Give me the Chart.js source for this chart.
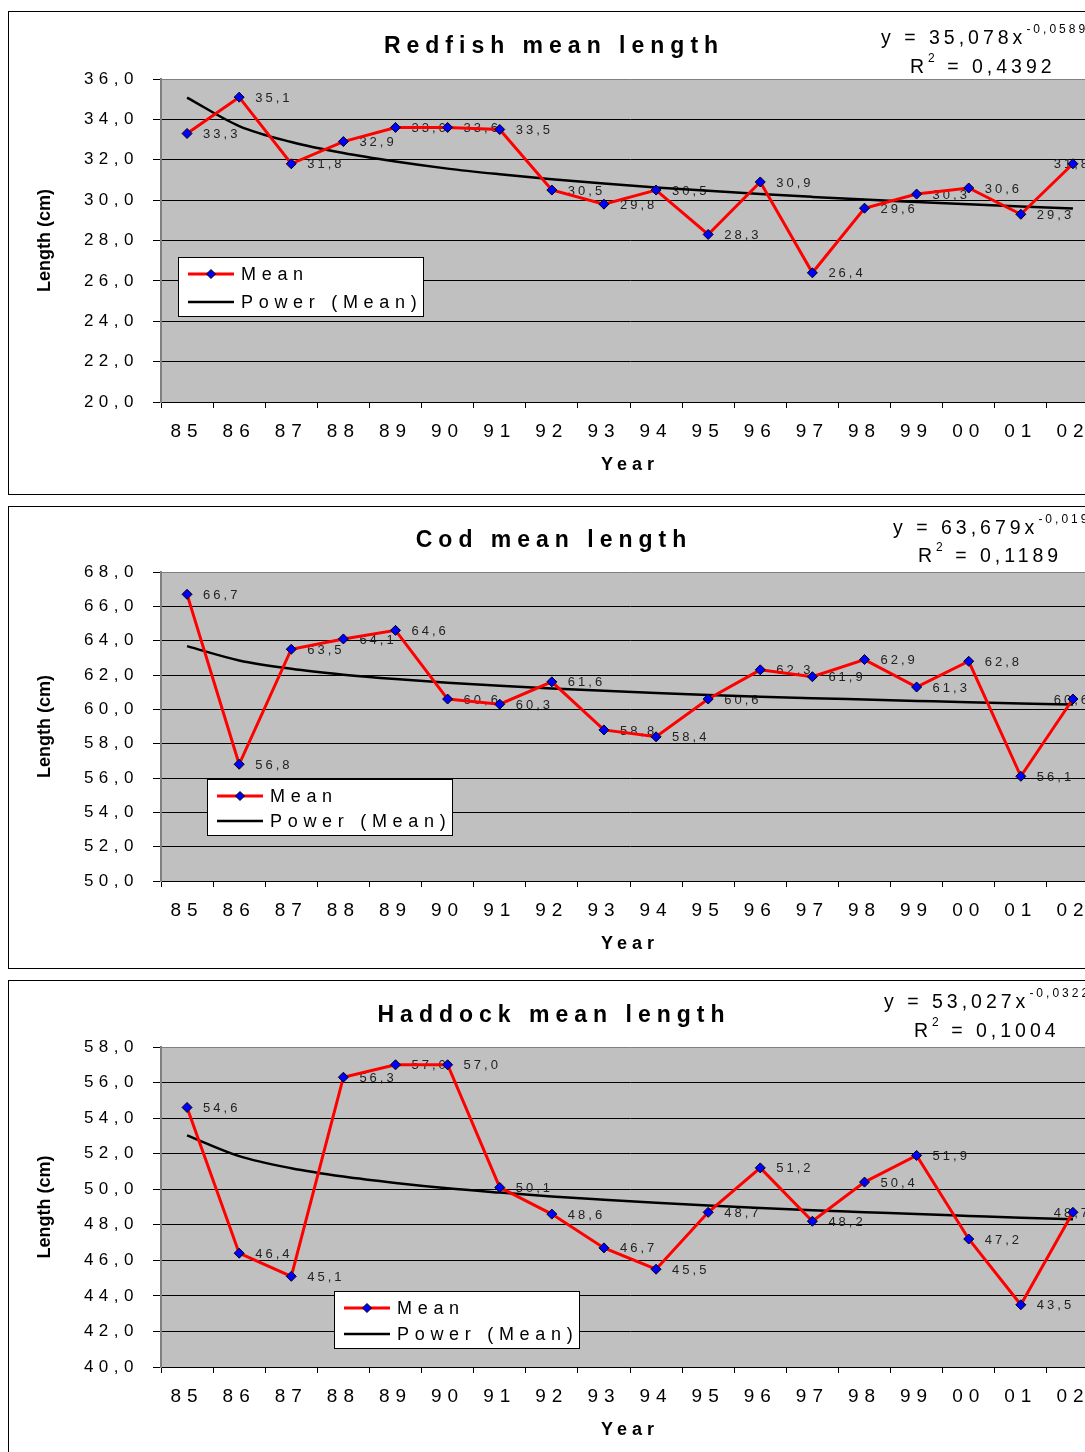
<!DOCTYPE html>
<html lang="en">
<head>
<meta charset="UTF-8">
<title>Mean length</title>
<script src="https://cdn.jsdelivr.net/npm/chart.js"></script>
<style>
  html, body { margin: 0; padding: 0; background: #fff; overflow: hidden; }
  .page {
    position: relative;
    width: 1085px;
    height: 1452px;
    overflow: hidden;
    font-family: "Liberation Sans", Arial, sans-serif;
    color: #000;
  }
  .panel {
    position: absolute;
    left: 8px;
    width: 1130px;
    border: 1px solid #000;
    box-sizing: border-box;
  }
  canvas { position: absolute; left: 9px; }
  .title {
    position: absolute;
    left: 0;
    width: 1108px;
    text-align: center;
    font-weight: bold;
    font-size: 23px;
    letter-spacing: 6px;
    line-height: 28px;
    white-space: nowrap;
  }
  .eq {
    position: absolute;
    font-size: 19.5px;
    letter-spacing: 4px;
    line-height: 22px;
    white-space: nowrap;
  }
  .eq sup { font-size: 12px; letter-spacing: 3px; vertical-align: 11px; line-height: 0; }
</style>
</head>
<body>
<div class="page">
  <div class="panel" style="top:11px;height:484px"></div>
  <div class="panel" style="top:506px;height:463px"></div>
  <div class="panel" style="top:980px;height:490px"></div>

  <canvas id="redfish" width="1110" height="481" style="top:12px"></canvas>
  <canvas id="cod" width="1110" height="460" style="top:507px"></canvas>
  <canvas id="haddock" width="1110" height="490" style="top:981px"></canvas>

  <div class="title" style="top:31px">Redfish mean length</div>
  <div class="eq" style="left:881px;top:26px">y = 35,078x<sup>-0,0589</sup></div>
  <div class="eq" style="left:910px;top:55px">R<sup>2</sup> = 0,4392</div>

  <div class="title" style="top:525px">Cod mean length</div>
  <div class="eq" style="left:893px;top:516px">y = 63,679x<sup>-0,019</sup></div>
  <div class="eq" style="left:918px;top:544px">R<sup>2</sup> = 0,1189</div>

  <div class="title" style="top:1000px">Haddock mean length</div>
  <div class="eq" style="left:884px;top:990px">y = 53,027x<sup>-0,0322</sup></div>
  <div class="eq" style="left:914px;top:1019px">R<sup>2</sup> = 0,1004</div>
</div>

<script>
// data
const years = ['85', '86', '87', '88', '89', '90', '91', '92', '93', '94', '95', '96', '97', '98', '99', '00', '01', '02'];

const redfishMean = [33.3, 35.1, 31.8, 32.9, 33.6, 33.6, 33.5, 30.5, 29.8, 30.5, 28.3, 30.9, 26.4, 29.6, 30.3, 30.6, 29.3, 31.8];
const redfishPower = [35.08, 33.67, 32.88, 32.33, 31.91, 31.56, 31.28, 31.03, 30.82, 30.63, 30.46, 30.30, 30.16, 30.03, 29.91, 29.79, 29.69, 29.59];
const redfishRange = [20, 36];

const codMean = [66.7, 56.8, 63.5, 64.1, 64.6, 60.6, 60.3, 61.6, 58.8, 58.4, 60.6, 62.3, 61.9, 62.9, 61.3, 62.8, 56.1, 60.6];
const codPower = [63.68, 62.85, 62.36, 62.02, 61.76, 61.55, 61.37, 61.21, 61.08, 60.95, 60.84, 60.74, 60.65, 60.57, 60.49, 60.41, 60.34, 60.28];
const codRange = [50, 68];

const haddockMean = [54.6, 46.4, 45.1, 56.3, 57.0, 57.0, 50.1, 48.6, 46.7, 45.5, 48.7, 51.2, 48.2, 50.4, 51.9, 47.2, 43.5, 48.7];
const haddockPower = [53.03, 51.86, 51.18, 50.71, 50.35, 50.05, 49.81, 49.59, 49.41, 49.24, 49.09, 48.95, 48.82, 48.71, 48.60, 48.50, 48.40, 48.31];
const haddockRange = [40, 58];

const FONT = '"Liberation Sans", Arial, sans-serif';
Chart.defaults.font.family = FONT;
Chart.defaults.color = '#000';

const fmt = v => v.toFixed(1).replace('.', ',');

// grey plot area
const plotBg = {
    id: 'plotBg',
    beforeDraw(chart) {
        const a = chart.chartArea;
        chart.ctx.save();
        chart.ctx.fillStyle = '#c0c0c0';
        chart.ctx.fillRect(a.left, a.top, a.right - a.left, a.bottom - a.top);
        chart.ctx.restore();
    }
};

// value labels, drawn under the lines like the original
const pointLabels = {
    id: 'pointLabels',
    beforeDatasetsDraw(chart) {
        const ctx = chart.ctx;
        const meta = chart.getDatasetMeta(0);
        const values = chart.data.datasets[0].data;
        const right = chart.chartArea.right;
        ctx.save();
        ctx.font = '13px ' + FONT;
        ctx.letterSpacing = '3px';
        ctx.fillStyle = '#222';
        ctx.textAlign = 'left';
        ctx.textBaseline = 'middle';
        meta.data.forEach((pt, i) => {
            const txt = fmt(values[i]);
            const w = ctx.measureText(txt).width;
            // labels that would run past the plot get pulled back inside it
            const x = Math.min(pt.x + 16, right - w - 8);
            ctx.fillText(txt, x, pt.y + 1);
        });
        ctx.restore();
    }
};

// boxed legend sitting inside the plot
const boxLegend = {
    id: 'boxLegend',
    afterDatasetsDraw(chart, args, opts) {
        const ctx = chart.ctx;
        const {x, y, w, h} = opts;
        const sets = chart.data.datasets;
        ctx.save();
        ctx.fillStyle = '#fff';
        ctx.fillRect(x, y, w, h);
        ctx.strokeStyle = '#000';
        ctx.lineWidth = 1;
        ctx.strokeRect(x + 0.5, y + 0.5, w - 1, h - 1);

        const rows = [y + 17, y + h - 15];
        // Mean
        ctx.strokeStyle = sets[0].borderColor;
        ctx.lineWidth = 3;
        ctx.beginPath();
        ctx.moveTo(x + 10, rows[0]);
        ctx.lineTo(x + 56, rows[0]);
        ctx.stroke();
        ctx.beginPath();
        ctx.moveTo(x + 33, rows[0] - 4.5);
        ctx.lineTo(x + 37.5, rows[0]);
        ctx.lineTo(x + 33, rows[0] + 4.5);
        ctx.lineTo(x + 28.5, rows[0]);
        ctx.closePath();
        ctx.fillStyle = '#0000ff';
        ctx.fill();
        ctx.lineWidth = 1;
        ctx.strokeStyle = '#000';
        ctx.stroke();
        // Power (Mean)
        ctx.strokeStyle = sets[1].borderColor;
        ctx.lineWidth = 2.5;
        ctx.beginPath();
        ctx.moveTo(x + 10, rows[1]);
        ctx.lineTo(x + 56, rows[1]);
        ctx.stroke();

        ctx.font = '18px ' + FONT;
        ctx.letterSpacing = '5.7px';
        ctx.fillStyle = '#000';
        ctx.textAlign = 'left';
        ctx.textBaseline = 'middle';
        ctx.fillText(sets[0].label, x + 63, rows[0] + 1);
        ctx.fillText(sets[1].label, x + 63, rows[1] + 1);
        ctx.restore();
    }
};

// wide letter spacing on axis text, as in the source picture
function spaced(scale, name, ls) {
    if (!scale || scale['_orig_' + name]) return;
    const orig = scale[name];
    scale['_orig_' + name] = orig;
    scale[name] = function (...a) {
        const ctx = this.ctx;
        const prev = ctx.letterSpacing;
        ctx.letterSpacing = ls;
        orig.apply(this, a);
        ctx.letterSpacing = prev;
    };
}
const spacing = {
    id: 'spacing',
    afterUpdate(chart) {
        spaced(chart.scales.x, 'drawLabels', '6px');
        spaced(chart.scales.x, 'drawTitle', '5px');
        spaced(chart.scales.y, 'drawLabels', '5.5px');
        spaced(chart.scales.y, 'drawTitle', '0px');
    }
};

function makeChart(id, mean, power, range, legendBox, padTop, padBottom) {
    return new Chart(document.getElementById(id), {
        type: 'line',
        data: {
            labels: years,
            datasets: [
                {
                    label: 'Mean',
                    data: mean,
                    borderColor: '#ff0000',
                    borderWidth: 3,
                    pointStyle: 'rectRot',
                    pointRadius: 5,
                    pointBackgroundColor: '#0000ff',
                    pointBorderColor: '#000',
                    pointBorderWidth: 1,
                    tension: 0
                },
                {
                    label: 'Power (Mean)',
                    data: power,
                    borderColor: '#000',
                    borderWidth: 2.5,
                    pointRadius: 0,
                    cubicInterpolationMode: 'monotone'
                }
            ]
        },
        options: {
            responsive: false,
            animation: false,
            layout: { padding: { top: padTop, right: 20, bottom: padBottom, left: 0 } },
            plugins: {
                legend: { display: false },
                tooltip: { enabled: false },
                boxLegend: legendBox
            },
            scales: {
                x: {
                    offset: true,
                    grid: { offset: true, drawOnChartArea: false, tickLength: 6, color: '#000' },
                    border: { color: '#000', width: 1 },
                    ticks: { font: { size: 19 }, color: '#000', padding: 12, autoSkip: false, maxRotation: 0 },
                    title: {
                        display: true, text: 'Year', color: '#000',
                        font: { size: 18, weight: 'bold' },
                        padding: { top: 0, bottom: 6 }
                    },
                    afterFit: s => { s.height = 80; }
                },
                y: {
                    min: range[0],
                    max: range[1],
                    ticks: { stepSize: 2, font: { size: 17 }, color: '#000', padding: 14, callback: v => fmt(v) },
                    grid: {
                        color: c => (c.tick && c.tick.value === range[1]) ? '#808080' : '#000',
                        tickColor: '#000',
                        tickLength: 8,
                        lineWidth: 1
                    },
                    border: { color: '#808080', width: 2 },
                    title: {
                        display: true, text: 'Length (cm)', color: '#000',
                        font: { size: 18, weight: 'bold' },
                        padding: { top: 25, bottom: 0 }
                    },
                    afterFit: s => { s.width = 152; }
                }
            }
        },
        plugins: [plotBg, pointLabels, boxLegend, spacing]
    });
}

makeChart('redfish', redfishMean, redfishPower, redfishRange, { x: 169, y: 245, w: 246, h: 60 }, 67, 11);
makeChart('cod', codMean, codPower, codRange, { x: 198, y: 272, w: 246, h: 57 }, 65, 6);
makeChart('haddock', haddockMean, haddockPower, haddockRange, { x: 325, y: 310, w: 246, h: 58 }, 66, 24);
</script>
</body>
</html>
